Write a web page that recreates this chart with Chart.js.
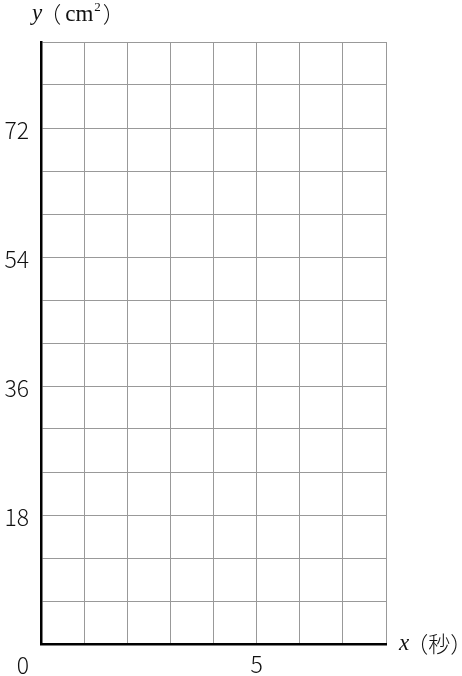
<!DOCTYPE html>
<html>
<head>
<meta charset="utf-8">
<script src="https://cdn.jsdelivr.net/npm/chart.js@4"></script>
<style>
  html, body { margin: 0; padding: 0; background: #fff; }
  #wrap { width: 462px; height: 676px; }
</style>
</head>
<body>
<div id="wrap"><canvas id="grid"></canvas></div>
<script>
// axis ranges of the blank answer grid
const xRange = [0, 8];
const xStep = 1;
const xLabels = [5];
const yRange = [0, 84];
const yStep = 6;
const yLabels = [18, 36, 54, 72];
const originLabel = "0";

const serif = "'Liberation Serif', 'DejaVu Serif', serif";
const sans = "'Noto Sans CJK JP', 'Noto Sans', sans-serif";

// draw pieces of text one after another, each with its own font
function runText(ctx, x, y, parts) {
  let cur = x;
  for (const p of parts) {
    ctx.font = p.font;
    cur += p.dx || 0;
    ctx.fillText(p.text, cur, y + (p.dy || 0));
    cur += ctx.measureText(p.text).width;
  }
}

// axis titles and the origin "0"
const titles = {
  id: "titles",
  afterDraw(chart) {
    const ctx = chart.ctx;
    const a = chart.chartArea;
    ctx.save();
    ctx.fillStyle = "#111";
    ctx.textBaseline = "middle";
    ctx.textAlign = "left";

    runText(ctx, 32, 14, [
      { text: "y", font: "italic 23px " + serif },
      { text: "（", font: "300 22px " + sans, dx: -3 },
      { text: "cm", font: "23px " + serif, dx: 4, dy: 1 },
      { text: "2", font: "13px " + serif, dx: 1, dy: -6 },
      { text: "）", font: "300 22px " + sans, dx: 2 }
    ]);

    runText(ctx, 399, a.bottom, [
      { text: "x", font: "italic 23px " + serif },
      { text: "（秒）", font: "300 22px " + sans, dx: -3 }
    ]);

    ctx.font = "300 23px " + sans;
    ctx.textAlign = "right";
    ctx.fillText(originLabel, 29, a.bottom + 21);
    ctx.restore();
  }
};

new Chart("grid", {
  type: "scatter",
  data: { datasets: [{ data: [] }] },
  options: {
    responsive: true,
    maintainAspectRatio: false,
    animation: false,
    layout: { padding: { top: 42, right: 76, left: 0, bottom: 0 } },
    plugins: { legend: { display: false }, tooltip: { enabled: false } },
    scales: {
      x: {
        type: "linear",
        min: xRange[0],
        max: xRange[1],
        afterFit(s) { s.height = 32; },
        border: { color: "#000", width: 2.5 },
        grid: { color: "#999", lineWidth: 1, drawTicks: false },
        ticks: {
          stepSize: xStep,
          padding: 6,
          autoSkip: false,
          maxRotation: 0,
          color: "#111",
          font: { family: sans, size: 23, weight: 300 },
          callback: (v) => (xLabels.includes(v) ? String(v) : "")
        }
      },
      y: {
        type: "linear",
        min: yRange[0],
        max: yRange[1],
        afterFit(s) { s.width = 41; },
        border: { color: "#000", width: 2.5 },
        grid: { color: "#999", lineWidth: 1, drawTicks: false },
        ticks: {
          stepSize: yStep,
          padding: 12,
          autoSkip: false,
          labelOffset: 2,
          color: "#111",
          font: { family: sans, size: 23, weight: 300 },
          callback: (v) => (yLabels.includes(v) ? String(v) : "")
        }
      }
    }
  },
  plugins: [titles]
});
</script>
</body>
</html>
